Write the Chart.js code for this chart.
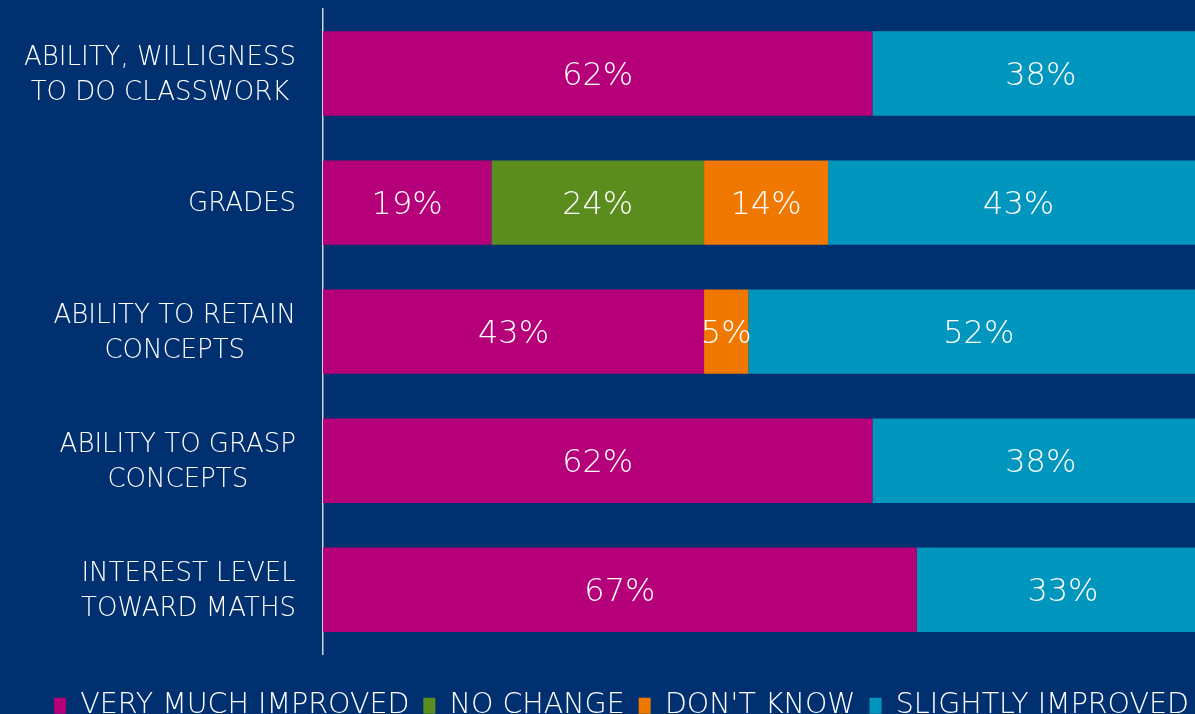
<!DOCTYPE html>
<html>
<head>
<meta charset="utf-8">
<script src="https://cdn.jsdelivr.net/npm/chart.js@4.4.1/dist/chart.umd.min.js"></script>
<style>
  html, body { margin: 0; padding: 0; background: #003070; overflow: hidden; }
  #wrap { position: relative; width: 1195px; height: 730px; }
</style>
</head>
<body>
<div id="wrap"><canvas id="c"></canvas></div>
<script>
const categories = [
  ["ABILITY, WILLIGNESS", "TO DO CLASSWORK"],
  "GRADES",
  ["ABILITY TO RETAIN", "CONCEPTS"],
  ["ABILITY TO GRASP", "CONCEPTS"],
  ["INTEREST LEVEL", "TOWARD MATHS"]
];
const seriesNames = ["VERY MUCH IMPROVED", "NO CHANGE", "DON'T KNOW", "SLIGHTLY IMPROVED"];
const veryMuchImproved = [62, 19, 43, 62, 67];
const noChange = [0, 24, 0, 0, 0];
const dontKnow = [0, 14, 5, 0, 0];
const slightlyImproved = [38, 43, 52, 38, 33];
const seriesColors = ["#B5007A", "#5B8C1E", "#F07800", "#0096BE"];

const FONT = "'DejaVu Sans', sans-serif";
const WEIGHT = 200;

const valueLabels = {
  id: 'valueLabels',
  afterDatasetsDraw(chart) {
    const ctx = chart.ctx;
    ctx.save();
    ctx.fillStyle = '#FFFFFF';
    ctx.font = WEIGHT + " 32px " + FONT;
    ctx.textAlign = 'center';
    ctx.textBaseline = 'middle';
    chart.data.datasets.forEach((ds, di) => {
      const meta = chart.getDatasetMeta(di);
      meta.data.forEach((bar, i) => {
        const v = ds.data[i];
        if (!v) return;
        const cx = (bar.x + bar.base) / 2;
        ctx.fillText(v + '%', cx, bar.y + 3);
      });
    });
    ctx.restore();
  }
};

// category labels: block right-aligned to the axis, lines centred within the block
const categoryLabels = {
  id: 'categoryLabels',
  afterDraw(chart) {
    const scale = chart.scales.y;
    const ctx = chart.ctx;
    const size = 26, lh = 35;
    ctx.save();
    ctx.fillStyle = '#FFFFFF';
    ctx.font = WEIGHT + " " + size + "px " + FONT;
    ctx.textBaseline = 'middle';
    ctx.textAlign = 'center';
    const right = scale.right - 27;
    scale.ticks.forEach((t, i) => {
      const lab = chart.data.labels[t.value];
      const lines = Array.isArray(lab) ? lab : [lab];
      const w = Math.max(...lines.map(s => ctx.measureText(s).width));
      const cx = right - w / 2;
      const y0 = scale.getPixelForTick(i) + 2 - (lines.length - 1) * lh / 2;
      lines.forEach((s, k) => ctx.fillText(s, cx, y0 + k * lh));
    });
    ctx.restore();
  }
};

const allSeries = [veryMuchImproved, noChange, dontKnow, slightlyImproved];

new Chart(document.getElementById('c'), {
  type: 'bar',
  data: {
    labels: categories,
    datasets: allSeries.map((d, i) => ({
      label: seriesNames[i],
      data: d,
      backgroundColor: seriesColors[i],
      borderWidth: 0,
      categoryPercentage: 1,
      barPercentage: 0.654
    }))
  },
  options: {
    indexAxis: 'y',
    responsive: true,
    maintainAspectRatio: false,
    animation: false,
    layout: { padding: { top: 9, left: 0, right: -8, bottom: 0 } },
    scales: {
      x: {
        stacked: true,
        display: false,
        min: 0,
        max: 98.4
      },
      y: {
        stacked: true,
        grid: { display: false, drawTicks: false },
        border: { display: true, color: '#D0D4DC', width: 1.5 },
        ticks: { display: false, autoSkip: false },
        afterFit(scale) { scale.width = 323; scale.paddingTop = 0; scale.paddingBottom = 0; }
      }
    },
    plugins: {
      tooltip: { enabled: false },
      legend: {
        position: 'bottom',
        align: 'end',
        title: { display: true, text: ' ', font: { size: 1 }, padding: { top: 22, bottom: 0 } },
        labels: {
          color: '#FFFFFF',
          font: { family: FONT, size: 28.5, weight: WEIGHT },
          boxWidth: 12,
          boxHeight: 16,
          padding: 14
        }
      }
    }
  },
  plugins: [valueLabels, categoryLabels]
});
</script>
</body>
</html>
